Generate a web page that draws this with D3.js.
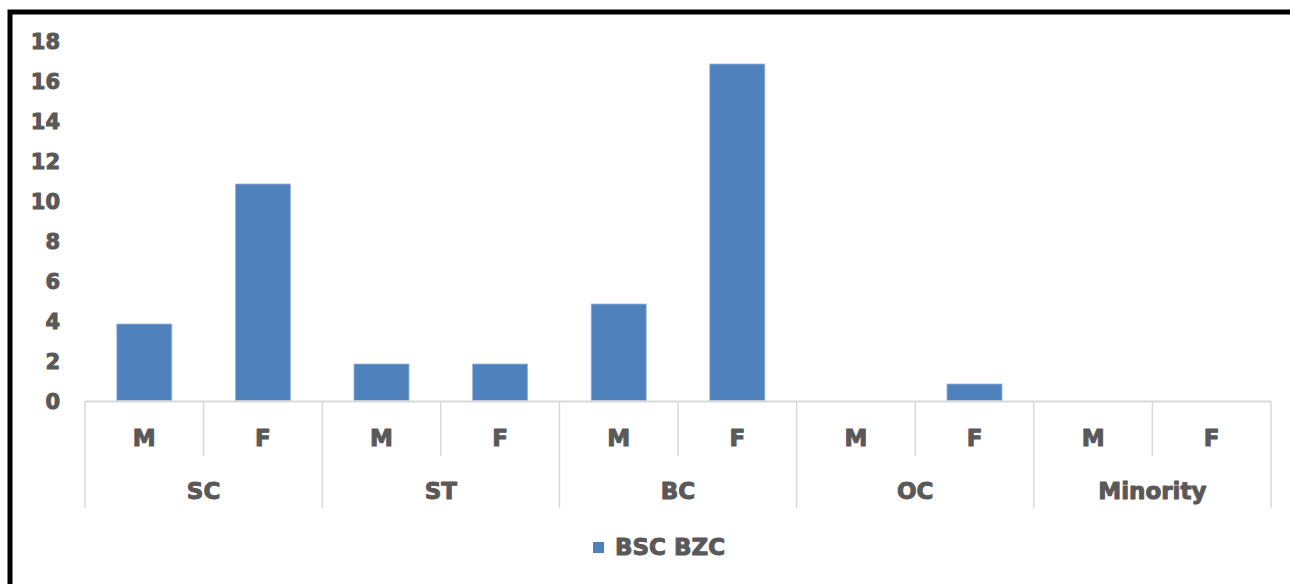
<!DOCTYPE html>
<html>
<head>
<meta charset="utf-8">
<script src="https://cdn.jsdelivr.net/npm/d3@7"></script>
<style>
  html, body { margin: 0; padding: 0; background: #fff; }
  #chart { width: 1290px; height: 584px; overflow: hidden; }
  text { font-family: "DejaVu Sans", sans-serif; font-weight: bold; fill: #595959; stroke: #595959; stroke-width: 1px; stroke-linejoin: round; }
</style>
</head>
<body>
<div id="chart"></div>
<script>
// chart data
var groups = ["SC", "ST", "BC", "OC", "Minority"];
var genders = ["M", "F"];
var values = [4, 11, 2, 2, 5, 17, 0, 1, 0, 0];   // in order SC-M, SC-F, ST-M ...
var yTicks = [0, 2, 4, 6, 8, 10, 12, 14, 16, 18];
var seriesName = "BSC BZC";

var W = 1290, H = 584;
var barColor = "#4f81bd";
var gridColor = "#d9d9d9";

var svg = d3.select("#chart")
  .append("svg")
  .attr("width", W)
  .attr("height", H);

svg.append("rect").attr("width", W).attr("height", H).attr("fill", "#fff");

// outer frame (runs past right and bottom edge)
svg.append("rect")
  .attr("x", 10).attr("y", 12)
  .attr("width", 1320).attr("height", 620)
  .attr("fill", "none")
  .attr("stroke", "#000")
  .attr("stroke-width", 5);

// one slot per group/gender pair
var slots = [];
groups.forEach(function (g) {
  genders.forEach(function (s) { slots.push({ group: g, gender: s }); });
});
slots.forEach(function (d, i) { d.value = values[i]; d.key = d.group + "-" + d.gender; });

var x = d3.scaleBand()
  .domain(slots.map(function (d) { return d.key; }))
  .range([85, 1271])
  .paddingInner(0.536)
  .paddingOuter(0.268);

var y = d3.scaleLinear()
  .domain([0, 18])
  .range([404, 44]);

var baseY = 401.5;
var step = x.step();

// y labels
svg.append("g")
  .selectAll("text")
  .data(yTicks)
  .enter()
  .append("text")
  .attr("x", 60)
  .attr("y", function (d) { return y(d) - 3; })
  .attr("dy", "0.36em")
  .attr("text-anchor", "end")
  .style("font-size", "21px")
  .text(function (d) { return d; });

// bars
svg.append("g")
  .selectAll("rect")
  .data(slots.filter(function (d) { return d.value > 0; }))
  .enter()
  .append("rect")
  .attr("x", function (d) { return x(d.key); })
  .attr("width", x.bandwidth())
  .attr("y", function (d) { return y(d.value); })
  .attr("height", function (d) { return baseY - 1 - y(d.value); })
  .attr("fill", barColor)
  .attr("stroke", "#9db5da")
  .attr("stroke-width", 0.8);

// category axis: baseline and dividers
var axisG = svg.append("g");
axisG.append("line")
  .attr("x1", 85).attr("x2", 1271)
  .attr("y1", baseY).attr("y2", baseY)
  .attr("stroke", gridColor)
  .attr("stroke-width", 2);

var edges = d3.range(slots.length + 1);
axisG.selectAll("line.div")
  .data(edges)
  .enter()
  .append("line")
  .attr("class", "div")
  .attr("x1", function (i) { return 85 + i * step; })
  .attr("x2", function (i) { return 85 + i * step; })
  .attr("y1", baseY)
  .attr("y2", function (i) { return i % 2 === 0 ? 508 : 456; })
  .attr("stroke", gridColor)
  .attr("stroke-width", 1.5);

// gender labels
axisG.selectAll("text.gender")
  .data(slots)
  .enter()
  .append("text")
  .attr("class", "gender")
  .attr("x", function (d) { return x(d.key) + x.bandwidth() / 2; })
  .attr("y", 438)
  .attr("dy", "0.36em")
  .attr("text-anchor", "middle")
  .style("font-size", "23px")
  .text(function (d) { return d.gender; });

// group labels
axisG.selectAll("text.group")
  .data(groups)
  .enter()
  .append("text")
  .attr("class", "group")
  .attr("x", function (d, i) { return 85 + (i * 2 + 1) * step; })
  .attr("y", 491)
  .attr("dy", "0.36em")
  .attr("text-anchor", "middle")
  .style("font-size", "23px")
  .text(function (d) { return d; });

// legend
var legend = svg.append("g");
legend.append("rect")
  .attr("x", 593).attr("y", 542)
  .attr("width", 11).attr("height", 11)
  .attr("fill", barColor);
legend.append("text")
  .attr("x", 615)
  .attr("y", 547)
  .attr("dy", "0.36em")
  .style("font-size", "23px")
  .text(seriesName);
</script>
</body>
</html>
